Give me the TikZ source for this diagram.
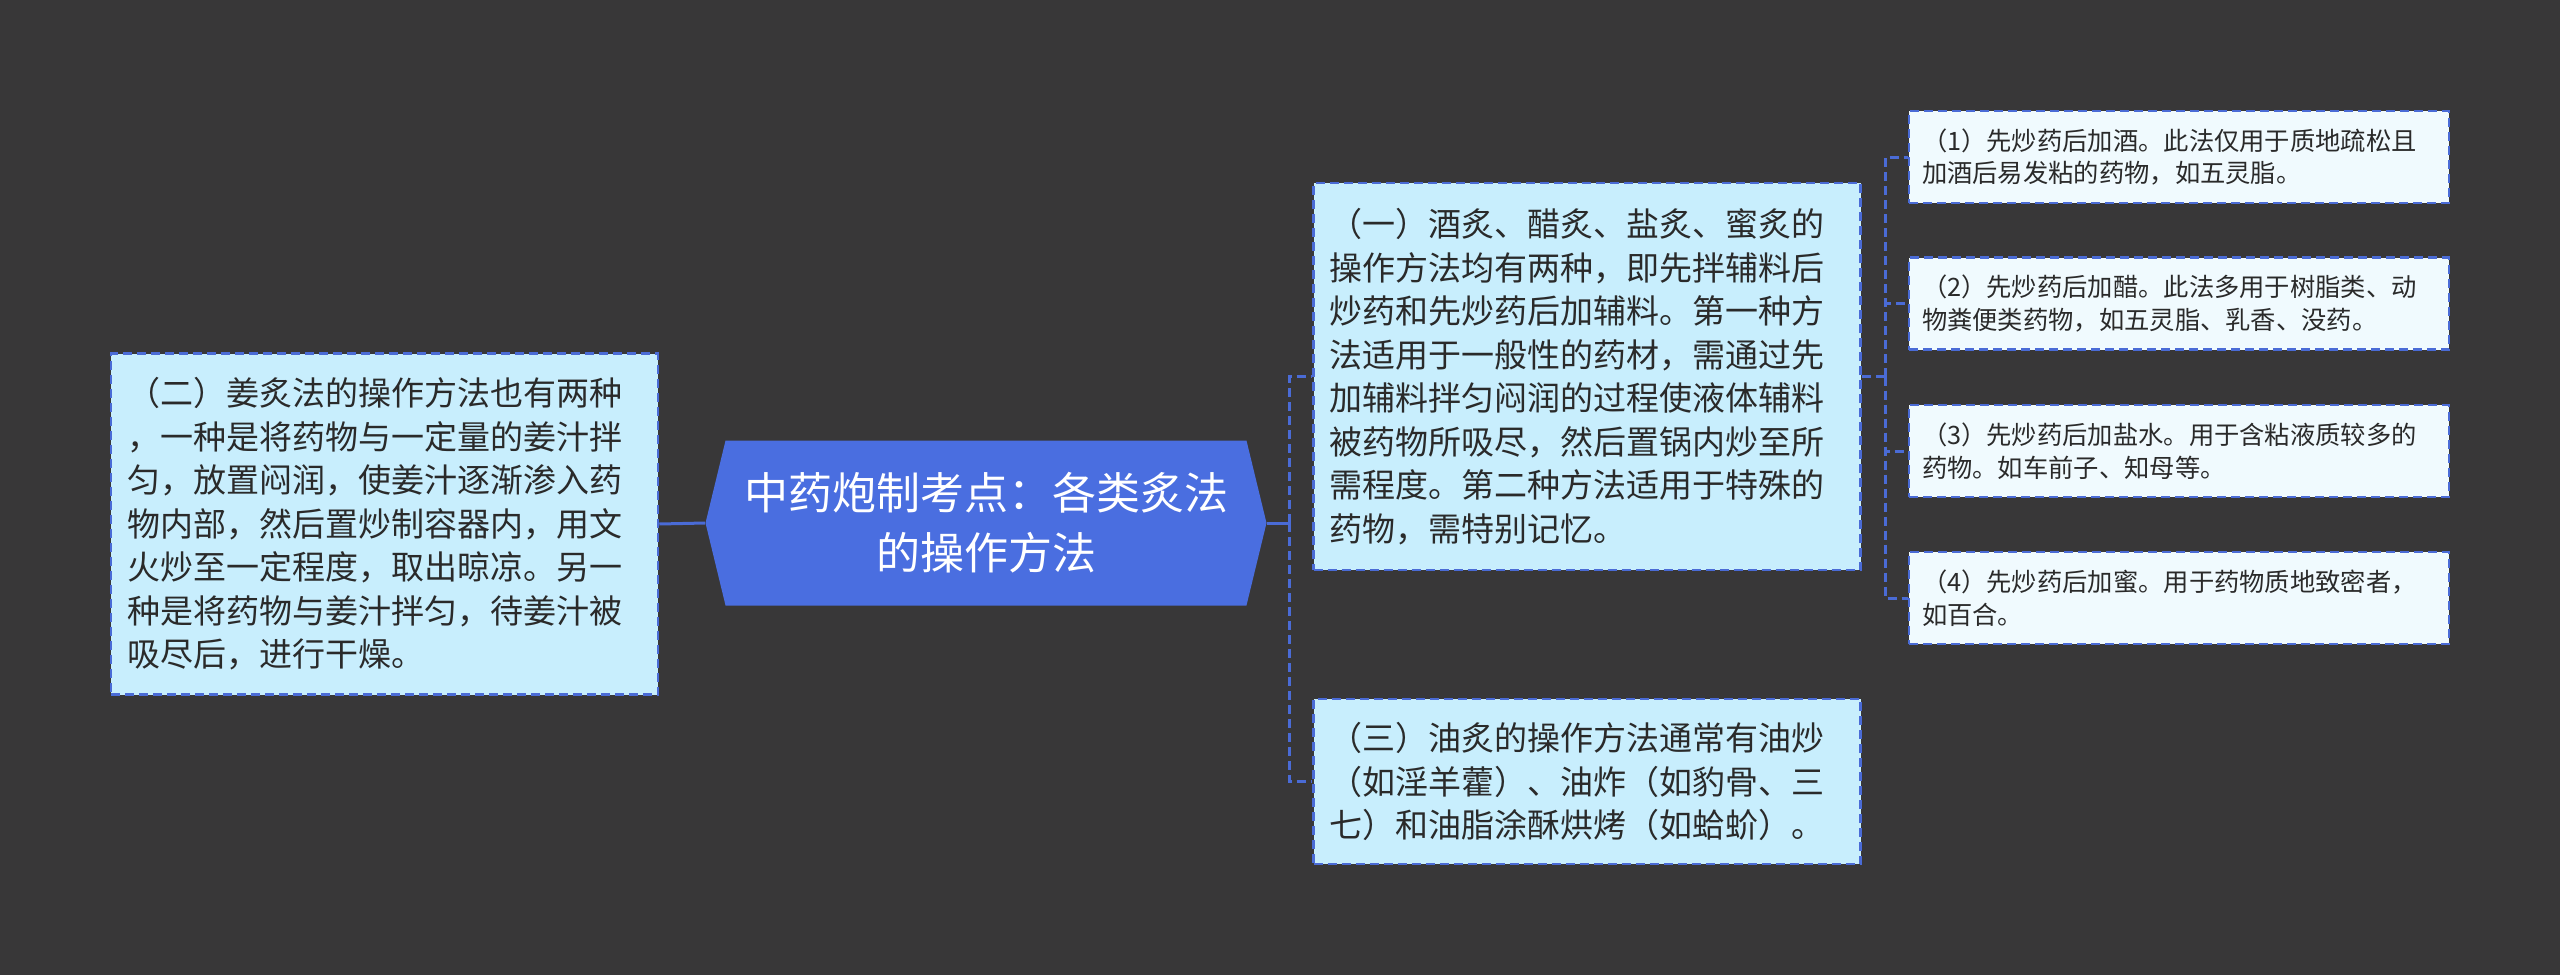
\documentclass[tikz,border=0pt]{standalone}
\usepackage{fontspec}
\newfontfamily\cjk{Noto Sans CJK SC}
\usetikzlibrary{shapes.symbols}
\definecolor{bgdark}{HTML}{383738}
\definecolor{titleblue}{HTML}{4A6EE0}
\definecolor{edgeblue}{HTML}{4A6BD6}
\definecolor{boxfill}{HTML}{C8EEFD}
\definecolor{leaffill}{HTML}{F0FAFE}
\definecolor{inktext}{HTML}{2A2A2A}
\begin{document}
\begin{tikzpicture}[x=0.5pt, y=-0.5pt,
    topic/.style = {shape=signal, signal to=east and west, signal pointer angle=152.7, fill=titleblue, text=white, align=center, inner sep=0pt, minimum width=280.5pt, minimum height=82.5pt, font=\cjk\fontsize{22}{30}\selectfont},
    sub/.style = {draw=edgeblue, line width=1.25pt, dash pattern=on 4.5pt off 2.5pt, fill=boxfill, text=inktext, align=left, inner xsep=8pt, inner ysep=0pt, text width=257.5pt, font=\cjk\fontsize{16.5}{21.75}\selectfont},
    leaf/.style = {sub, fill=leaffill, inner xsep=6.5pt, text width=257pt, minimum height=46pt, font=\cjk\fontsize{12.65}{16.25}\selectfont},
    link/.style = {draw=edgeblue, line width=1.5pt},
    branch/.style = {link, dash pattern=on 4.5pt off 2.5pt}]
    \fill[bgdark] (0,0) rectangle (2560,975);
    \useasboundingbox (0,0) rectangle (2560,975);

    \node[topic] (title) at (986, 523) {中药炮制考点：各类炙法\\的操作方法};

    \node[sub, minimum height=170.5pt] (jiang) at (384.5, 524) {（二）姜炙法的操作方法也有两种\\，一种是将药物与一定量的姜汁拌\\匀，放置闷润，使姜汁逐渐渗入药\\物内部，然后置炒制容器内，用文\\火炒至一定程度，取出晾凉。另一\\种是将药物与姜汁拌匀，待姜汁被\\吸尽后，进行干燥。};

    \node[sub, minimum height=193.5pt] (jiu) at (1587, 376.5) {（一）酒炙、醋炙、盐炙、蜜炙的\\操作方法均有两种，即先拌辅料后\\炒药和先炒药后加辅料。第一种方\\法适用于一般性的药材，需通过先\\加辅料拌匀闷润的过程使液体辅料\\被药物所吸尽，然后置锅内炒至所\\需程度。第二种方法适用于特殊的\\药物，需特别记忆。};
    \node[sub, minimum height=82.5pt] (you) at (1587, 781.5) {（三）油炙的操作方法通常有油炒\\（如淫羊藿）、油炸（如豹骨、三\\七）和油脂涂酥烘烤（如蛤蚧）。};

    \node[leaf] (jiu1) at (2179, 157) {（1）先炒药后加酒。此法仅用于质地疏松且\\加酒后易发粘的药物，如五灵脂。};
    \node[leaf] (jiu2) at (2179, 303.5) {（2）先炒药后加醋。此法多用于树脂类、动\\物粪便类药物，如五灵脂、乳香、没药。};
    \node[leaf] (jiu3) at (2179, 451) {（3）先炒药后加盐水。用于含粘液质较多的\\药物。如车前子、知母等。};
    \node[leaf] (jiu4) at (2179, 598) {（4）先炒药后加蜜。用于药物质地致密者，\\如百合。};

    \coordinate (hubA) at (1289, 523);
    \coordinate (hubB) at (1885, 376.5);

    \draw[link] (jiang.east) -- (title.west);
    \draw[link] (title.east) -- (hubA);
    \draw[branch] (hubA) |- (jiu.west);
    \draw[branch] (hubA) |- (you.west);

    \draw[branch] (jiu.east) -- (hubB);
    \draw[branch] (hubB) |- (jiu1.west);
    \draw[branch] (hubB) |- (jiu2.west);
    \draw[branch] (hubB) |- (jiu3.west);
    \draw[branch] (hubB) |- (jiu4.west);
\end{tikzpicture}
\end{document}
